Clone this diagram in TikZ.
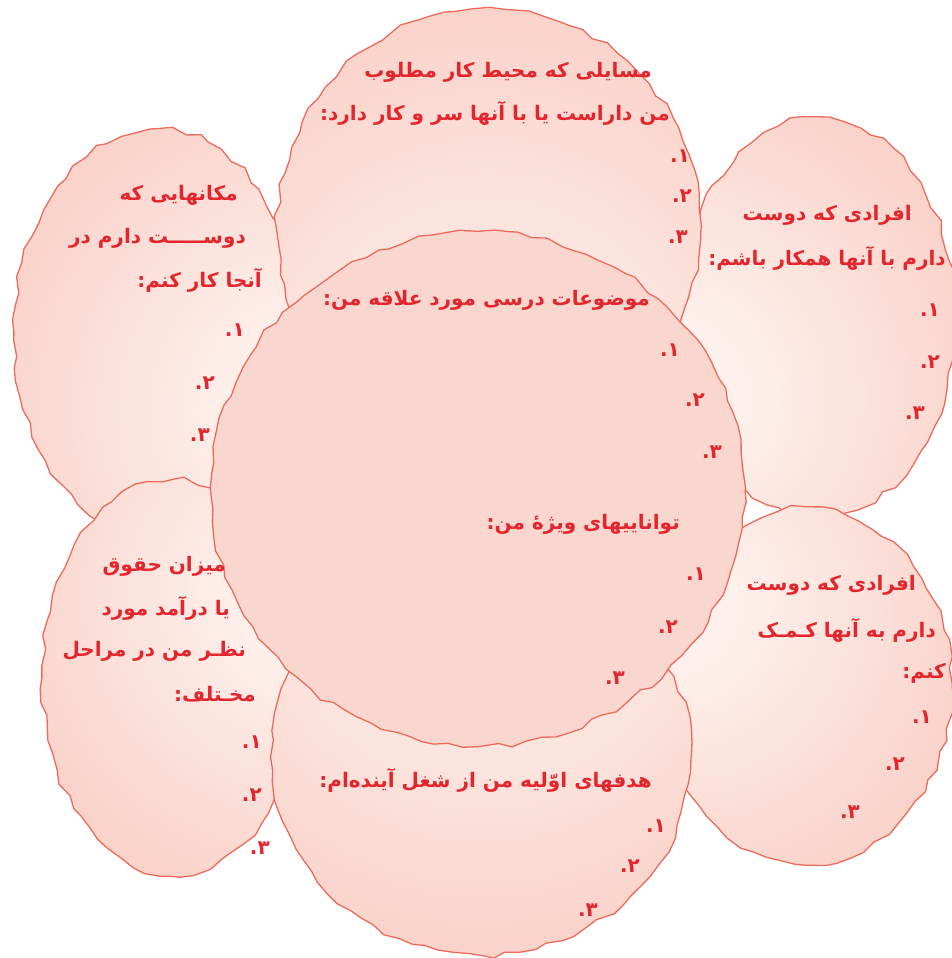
\documentclass[tikz,border=0pt]{standalone}
\usepackage{fontspec}
\usetikzlibrary{decorations.pathmorphing}
\TeXXeTstate=1
\newfontfamily\fa[Script=Arabic]{DejaVu Sans}
\definecolor{edgecol}{HTML}{EE6B5C}
\definecolor{blobDark}{HTML}{F5B6A8}
\definecolor{blobLight}{HTML}{FEF0EC}
\definecolor{centerFill}{HTML}{FAD7CE}
\definecolor{txtred}{HTML}{E3262E}
\pgfdeclareradialshading{blobshade}{\pgfpoint{0bp}{-28bp}}{color(0bp)=(blobLight); color(10bp)=(blobLight); color(72bp)=(blobDark); color(100bp)=(blobDark)}
\tikzset{
  blob/.style={draw=edgecol, line width=1.3pt, shading=blobshade, decorate,
    decoration={random steps, segment length=14pt, amplitude=3pt}},
  coreblob/.style={draw=edgecol, line width=1.3pt, fill=centerFill, decorate,
    decoration={random steps, segment length=14pt, amplitude=3pt}},
  ftxt/.style={anchor=east, text=txtred, font=\fa\bfseries\fontsize{20}{24}\selectfont, inner sep=0pt}
}
\begin{document}
\begin{tikzpicture}[x=1pt,y=-1pt]
\pgfmathsetseed{11}
\useasboundingbox (0,0) rectangle (952,958);
% outer blobs
\path[blob, shading angle=64] (157,333) ellipse [x radius=143, y radius=204];
\path[blob, shading angle=-63] (818,318) ellipse [x radius=138, y radius=200];
\path[blob, shading angle=-121] (806,686) ellipse [x radius=146, y radius=178];
\path[blob, shading angle=121] (172,678) ellipse [x radius=130, y radius=198];
\path[blob, shading angle=0] (489,228) ellipse [x radius=212, y radius=220];
\path[blob, shading angle=180] (481,757) ellipse [x radius=210, y radius=198];
% central blob
\path[coreblob] (478,489) ellipse [x radius=267, y radius=257];
% top
\node[ftxt] (t1) at (652,72) {\beginR مسایلی که محیط کار مطلوب\endR};
\node[ftxt] (t2) at (670,113) {\beginR من داراست یا با آنها سر و کار دارد:\endR};
\node[ftxt] (t3) at (690,156) {\beginR ۱.\endR};
\node[ftxt] (t4) at (692,196) {\beginR ۲.\endR};
\node[ftxt] (t5) at (688,237) {\beginR ۳.\endR};
% right top
\node[ftxt] (r1) at (912,215) {\beginR افرادی که دوست\endR};
\node[ftxt] (r2) at (946,258) {\beginR دارم با آنها همکار باشم:\endR};
\node[ftxt] (r3) at (940,310) {\beginR ۱.\endR};
\node[ftxt] (r4) at (940,362) {\beginR ۲.\endR};
\node[ftxt] (r5) at (925,413) {\beginR ۳.\endR};
% left top
\node[ftxt] (l1) at (238,195) {\beginR مکانهایی که\endR};
\node[ftxt] (l2) at (246,238) {\beginR دوســـــت دارم در\endR};
\node[ftxt] (l3) at (262,280) {\beginR آنجا کار کنم:\endR};
\node[ftxt] (l4) at (245,330) {\beginR ۱.\endR};
\node[ftxt] (l5) at (215,383) {\beginR ۲.\endR};
\node[ftxt] (l6) at (210,435) {\beginR ۳.\endR};
% central
\node[ftxt] (c1) at (650,300) {\beginR موضوعات درسی مورد علاقه من:\endR};
\node[ftxt] (c2) at (680,350) {\beginR ۱.\endR};
\node[ftxt] (c3) at (705,400) {\beginR ۲.\endR};
\node[ftxt] (c4) at (722,452) {\beginR ۳.\endR};
\node[ftxt] (c5) at (680,524) {\beginR تواناییهای ویژهٔ من:\endR};
\node[ftxt] (c6) at (706,574) {\beginR ۱.\endR};
\node[ftxt] (c7) at (678,627) {\beginR ۲.\endR};
\node[ftxt] (c8) at (625,678) {\beginR ۳.\endR};
% right bottom
\node[ftxt] (b1) at (916,585) {\beginR افرادی که دوست\endR};
\node[ftxt] (b2) at (936,630) {\beginR دارم به آنها کـمـک\endR};
\node[ftxt] (b3) at (946,673) {\beginR کنم:\endR};
\node[ftxt] (b4) at (932,717) {\beginR ۱.\endR};
\node[ftxt] (b5) at (905,764) {\beginR ۲.\endR};
\node[ftxt] (b6) at (860,812) {\beginR ۳.\endR};
% left bottom
\node[ftxt] (m1) at (226,566) {\beginR میزان حقوق\endR};
\node[ftxt] (m2) at (230,608) {\beginR یا درآمد مورد\endR};
\node[ftxt] (m3) at (246,651) {\beginR نظـر من در مراحل\endR};
\node[ftxt] (m4) at (256,694) {\beginR مخـتلف:\endR};
\node[ftxt] (m5) at (262,742) {\beginR ۱.\endR};
\node[ftxt] (m6) at (262,795) {\beginR ۲.\endR};
\node[ftxt] (m7) at (270,848) {\beginR ۳.\endR};
% bottom
\node[ftxt] (d1) at (652,780) {\beginR هدفهای اوّلیه من از شغل آینده‌ام:\endR};
\node[ftxt] (d2) at (666,826) {\beginR ۱.\endR};
\node[ftxt] (d3) at (640,866) {\beginR ۲.\endR};
\node[ftxt] (d4) at (598,910) {\beginR ۳.\endR};
\end{tikzpicture}
\end{document}
